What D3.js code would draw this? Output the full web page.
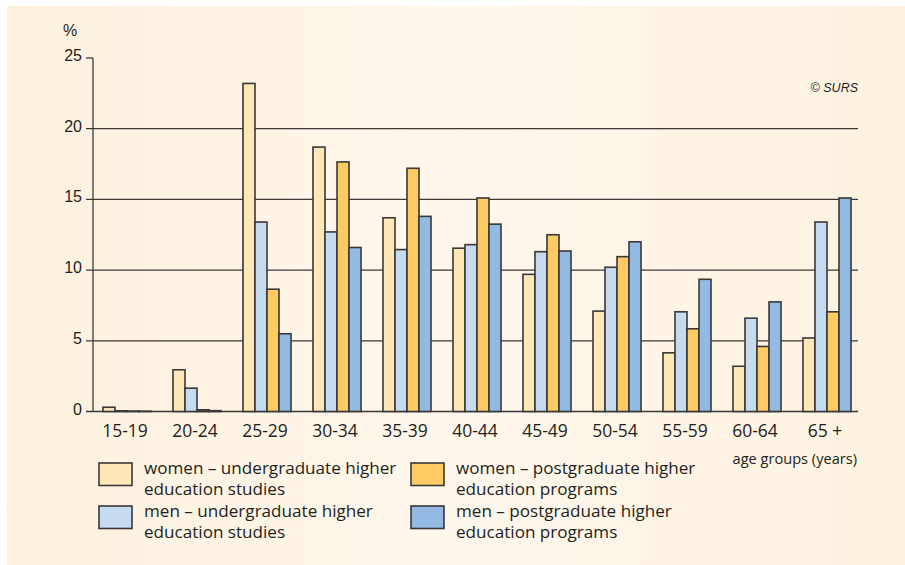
<!DOCTYPE html>
<html>
<head>
<meta charset="utf-8">
<script src="https://cdn.jsdelivr.net/npm/d3@7/dist/d3.min.js"></script>
<style>
  html, body { margin: 0; padding: 0; background: #ffffff; }
  svg { display: block; }
</style>
</head>
<body>
<svg id="chart" width="905" height="565"></svg>
<script>
// ---- data ----
const categories = ["15-19", "20-24", "25-29", "30-34", "35-39", "40-44", "45-49", "50-54", "55-59", "60-64", "65 +"];
const seriesNames = [
  ["women – undergraduate higher", "education studies"],
  ["men – undergraduate higher", "education studies"],
  ["women – postgraduate higher", "education programs"],
  ["men – postgraduate higher", "education programs"]
];
const womenUndergrad = [0.3, 2.95, 23.2, 18.7, 13.7, 11.55, 9.7, 7.1, 4.15, 3.2, 5.2];
const menUndergrad   = [0.05, 1.65, 13.4, 12.7, 11.45, 11.8, 11.3, 10.2, 7.05, 6.6, 13.4];
const womenPostgrad  = [0.03, 0.12, 8.65, 17.65, 17.2, 15.1, 12.5, 10.95, 5.85, 4.6, 7.05];
const menPostgrad    = [0.02, 0.06, 5.5, 11.6, 13.8, 13.25, 11.35, 12.0, 9.35, 7.75, 15.1];
const yTicks = [0, 5, 10, 15, 20, 25];
const colors = ["#fee8b7", "#c7dbf0", "#fdca64", "#92bae3"];

const series = [womenUndergrad, menUndergrad, womenPostgrad, menPostgrad];

// ---- drawing ----
const svg = d3.select("#chart");

const defs = svg.append("defs");
const grad = defs.append("linearGradient").attr("id", "bg").attr("x1", "0").attr("x2", "1").attr("y1", "0").attr("y2", "0");
grad.append("stop").attr("offset", "0%").attr("stop-color", "#fdf1de");
grad.append("stop").attr("offset", "50%").attr("stop-color", "#fef7ec");
grad.append("stop").attr("offset", "100%").attr("stop-color", "#fdf2e0");

svg.append("rect").attr("x", 7).attr("y", 6).attr("width", 898).attr("height", 559).attr("fill", "url(#bg)");

const x0 = d3.scaleBand().domain(categories).range([92, 862]).paddingInner(0.314).paddingOuter(0.157);
const x1 = d3.scaleBand().domain(d3.range(series.length)).range([0, x0.bandwidth()]).padding(0);
const y = d3.scaleLinear().domain([0, 25]).range([411.5, 58]);

const axisX = 93, gridRight = 858;

// gridlines
svg.append("g").selectAll("line").data(yTicks.filter(t => t < 25)).join("line")
  .attr("x1", 86).attr("x2", gridRight)
  .attr("y1", d => y(d)).attr("y2", d => y(d))
  .attr("stroke", "#3b3836").attr("stroke-width", 1.3);

// top tick
svg.append("line").attr("x1", 86).attr("x2", axisX).attr("y1", y(25)).attr("y2", y(25))
  .attr("stroke", "#3b3836").attr("stroke-width", 1.3);

// vertical axis
svg.append("line").attr("x1", axisX).attr("x2", axisX).attr("y1", y(25)).attr("y2", y(0))
  .attr("stroke", "#3b3836").attr("stroke-width", 1.3);

// y labels
svg.append("g").selectAll("text").data(yTicks).join("text")
  .attr("x", 82).attr("y", d => y(d) + 3)
  .attr("text-anchor", "end")
  .attr("font-family", "'Liberation Sans', Arial, sans-serif")
  .attr("font-size", 16)
  .attr("fill", "#231f20")
  .text(d => d);

svg.append("text").attr("x", 63).attr("y", 36)
  .attr("font-family", "'Liberation Sans', Arial, sans-serif")
  .attr("font-size", 16).attr("fill", "#231f20").text("%");

// bars
const groups = svg.append("g").selectAll("g").data(categories).join("g")
  .attr("transform", d => `translate(${x0(d)},0)`);

groups.selectAll("rect").data((d, i) => series.map((s, k) => ({k, v: s[i]}))).join("rect")
  .attr("x", d => x1(d.k))
  .attr("width", x1.bandwidth())
  .attr("y", d => y(d.v))
  .attr("height", d => y(0) - y(d.v))
  .attr("fill", d => colors[d.k])
  .attr("stroke", "#3a3838")
  .attr("stroke-width", 1.6);

// x labels
svg.append("g").selectAll("text").data(categories).join("text")
  .attr("x", d => x0(d) + x0.bandwidth() / 2 - 2)
  .attr("y", 437)
  .attr("text-anchor", "middle")
  .attr("font-family", "'Open Sans', sans-serif")
  .attr("font-size", 17.5)
  .attr("fill", "#231f20")
  .text(d => d);

// copyright
svg.append("text").attr("x", 858).attr("y", 92).attr("text-anchor", "end")
  .attr("font-family", "'Liberation Sans', Arial, sans-serif")
  .attr("font-style", "italic")
  .attr("font-size", 12.5).attr("fill", "#231f20").text("© SURS");

// axis title
svg.append("text").attr("x", 857).attr("y", 464).attr("text-anchor", "end")
  .attr("font-family", "'Open Sans', sans-serif")
  .attr("font-size", 14.6).attr("fill", "#231f20").text("age groups (years)");

// legend
const legendPos = [[99, 463], [99, 506], [411, 463], [411, 506]];
const leg = svg.append("g").selectAll("g").data(seriesNames).join("g")
  .attr("transform", (d, i) => `translate(${legendPos[i][0]},${legendPos[i][1]})`);
leg.append("rect").attr("width", 33).attr("height", 22.5)
  .attr("fill", (d, i) => colors[i]).attr("stroke", "#3a3838").attr("stroke-width", 1.6);
leg.each(function(d) {
  const t = d3.select(this).append("text")
    .attr("font-family", "'Open Sans', sans-serif")
    .attr("font-size", 17.1).attr("fill", "#231f20");
  d.forEach((line, j) => {
    t.append("tspan").attr("x", 45).attr("y", 10.5 + j * 21).text(line);
  });
});
</script>
</body>
</html>
